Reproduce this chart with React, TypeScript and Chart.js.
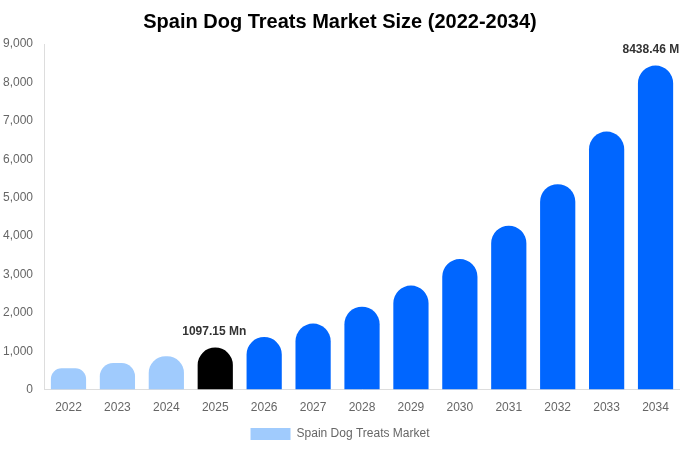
import React from 'react';
import { Chart, registerables } from 'chart.js';
Chart.register(...registerables);

const years = ['2022', '2023', '2024', '2025', '2026', '2027', '2028', '2029', '2030', '2031', '2032', '2033', '2034'];
const marketSize = [556, 693, 866, 1097.15, 1370, 1720, 2160, 2710, 3400, 4270, 5350, 6720, 8438.46];
const barColors = [
  '#a0cbfd', '#a0cbfd', '#a0cbfd',
  '#000000',
  '#0066ff', '#0066ff', '#0066ff', '#0066ff', '#0066ff', '#0066ff', '#0066ff', '#0066ff', '#0066ff',
];
const labelledYears = ['2025', '2034'];

// draws the "xxxx.xx Mn" text above chosen bars
const valueLabels = {
  id: 'valueLabels',
  afterDatasetsDraw(chart) {
    const { ctx } = chart;
    const meta = chart.getDatasetMeta(0);
    ctx.save();
    ctx.font = 'bold 12px "Liberation Sans", Arial, sans-serif';
    ctx.fillStyle = '#333333';
    ctx.textAlign = 'center';
    ctx.textBaseline = 'bottom';
    meta.data.forEach((bar, i) => {
      if (!labelledYears.includes(years[i])) return;
      ctx.fillText(`${marketSize[i].toFixed(2)} Mn`, bar.x - 1, bar.y - 10);
    });
    ctx.restore();
  },
};

const App = () => {
  const chartRef = React.useRef(null);
  const chartInstance = React.useRef(null);

  React.useEffect(() => {
    document.body.style.margin = '0';
    if (chartInstance.current) {
      chartInstance.current.destroy();
    }

    chartInstance.current = new Chart(chartRef.current, {
      type: 'bar',
      data: {
        labels: years,
        datasets: [
          {
            label: 'Spain Dog Treats Market',
            data: marketSize,
            backgroundColor: barColors,
            borderRadius: 20,
            categoryPercentage: 0.72,
            barPercentage: 1,
          },
        ],
      },
      options: {
        animation: false,
        responsive: true,
        maintainAspectRatio: false,
        layout: { padding: 0 },
        plugins: {
          title: {
            display: true,
            text: 'Spain Dog Treats Market Size (2022-2034)',
            color: '#000000',
            font: { family: '"Liberation Sans", Arial, sans-serif', size: 20, weight: 'bold' },
            padding: { top: 10, bottom: 10 },
          },
          legend: {
            position: 'bottom',
            labels: {
              boxWidth: 40,
              boxHeight: 12,
              color: '#666666',
              font: { family: '"Liberation Sans", Arial, sans-serif', size: 12 },
              generateLabels: () => [
                {
                  text: 'Spain Dog Treats Market',
                  fillStyle: '#a0cbfd',
                  strokeStyle: '#a0cbfd',
                  fontColor: '#666666',
                  lineWidth: 0,
                  datasetIndex: 0,
                },
              ],
            },
          },
          tooltip: { enabled: false },
        },
        scales: {
          x: {
            grid: { display: false },
            border: { color: '#dddddd' },
            ticks: {
              color: '#666666',
              font: { family: '"Liberation Sans", Arial, sans-serif', size: 12 },
            },
          },
          y: {
            min: 0,
            max: 9000,
            grid: { display: false },
            border: { color: '#dddddd' },
            ticks: {
              stepSize: 1000,
              color: '#666666',
              font: { family: '"Liberation Sans", Arial, sans-serif', size: 12 },
            },
          },
        },
      },
      plugins: [valueLabels],
    });

    return () => {
      if (chartInstance.current) {
        chartInstance.current.destroy();
        chartInstance.current = null;
      }
    };
  }, []);

  return (
    <div style={{ width: '680px', height: '450px', position: 'relative' }}>
      <canvas ref={chartRef} />
    </div>
  );
};

export default App;
